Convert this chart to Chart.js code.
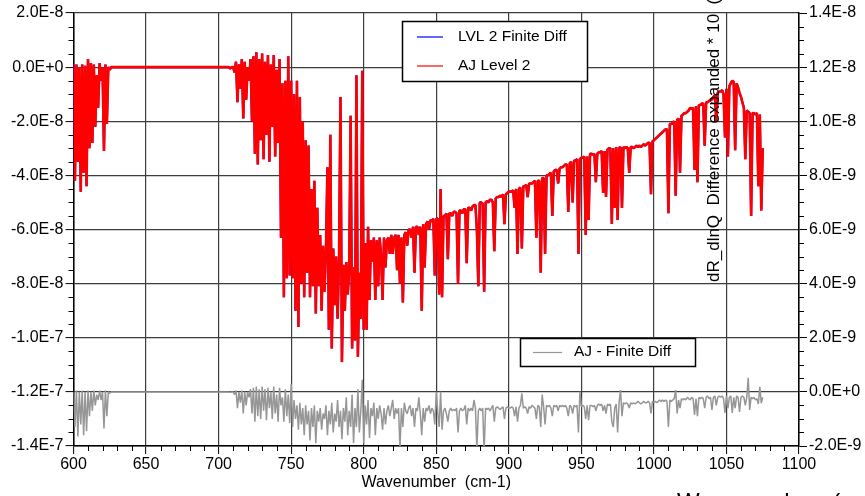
<!DOCTYPE html>
<html><head><meta charset="utf-8">
<script src="https://cdn.jsdelivr.net/npm/chart.js@4.4.1/dist/chart.umd.min.js"></script>
<style>html,body{margin:0;padding:0;background:#fff;overflow:hidden}#wrap{width:865px;height:496px;position:relative}</style>
</head><body><div id="wrap"><canvas id="c" width="865" height="496"></canvas></div>
<script>
// Spectra sampled every 1 cm-1 starting at 600 cm-1
const waveStart = 600;
const waveStep = 1;
const xTicks = [600, 650, 700, 750, 800, 850, 900, 950, 1000, 1050, 1100];
const leftTicks_e8 = [-14, -12, -10, -8, -6, -4, -2, 0, 2];   // x 1E-8
const rightTicks_e9 = [-2, 0, 2, 4, 6, 8, 10, 12, 14];        // x 1E-9

// AJ Level 2 (left axis, units of 1E-8)
const ajLevel2_e8 = [
0.1,-4.2,0.1,-3.5,0.0,-4.6,0.1,-3.9,0.05,-4.4,
0.3,-3.0,0.15,-2.8,0.1,-2.2,-0.3,-1.5,0.15,-0.5,
0.0,-3.1,0.1,-2.1,0.0,-0.1,0,0,0,0,
0,0,0,0,0,0,0,0,0,0,
0,0,0,0,0,0,0,0,0,0,
0,0,0,0,0,0,0,0,0,0,
0,0,0,0,0,0,0,0,0,0,
0,0,0,0,0,0,0,0,0,0,
0,0,0,0,0,0,0,0,0,0,
0,0,0,0,0,0,0,0,0,0,
0,0,0,0,0,0,0,0,-0.05,0,
0.0,-0.2,0.2,-1.3,0.1,-0.8,0.3,-1.9,0.2,-1.2,
0.0,-0.5,0.3,-2.0,0.4,-3.2,0.55,-3.6,0.3,-2.7,
0.5,-3.4,0.2,-2.5,0.45,-3.5,0.1,-2.2,0.45,-3.3,
-0.1,-2.8,0.3,-6.3,-0.6,-8.5,-0.5,-7.8,0.4,-7.7,
-0.5,-7.8,-1.0,-9.0,-0.5,-9.6,-1.1,-8.0,-2.0,-8.5,
-2.7,-7.6,-2.9,-8.5,-4.5,-8.1,-4.2,-9.1,-5.2,-8.1,
-6.2,-9.0,-6.6,-8.3,-6.7,-3.7,-9.7,-2.5,-10.4,-6.7,
-8.8,-7.0,-9.3,-7.1,-1.1,-10.9,-7.3,-9.0,-7.2,-8.4,
-7.5,-1.8,-10.4,-7.4,-10.1,-0.3,-10.7,-7.6,-9.3,-0.13,
-9.7,-6.5,-9.7,-5.9,-8.6,-6.4,-7.2,-6.3,-8.6,-6.4,
-8.1,-6.3,-7.0,-8.6,-6.3,-7.4,-6.4,-6.3,-6.9,-6.2,
-6.9,-6.3,-6.2,-7.5,-6.2,-8.0,-6.3,-8.7,-6.2,-6.1,
-6.6,-6.0,-6.0,-6.3,-5.9,-7.6,-5.9,-5.9,-6.2,-5.9,
-9.0,-5.8,-7.4,-5.8,-5.7,-6.0,-5.65,-5.7,-5.6,-7.7,
-5.6,-5.6,-8.4,-4.5,-8.5,-5.5,-5.5,-5.4,-7.1,-5.4,
-5.4,-5.5,-5.35,-5.35,-5.4,-8.0,-5.3,-5.3,-5.4,-5.25,
-5.25,-7.25,-5.2,-5.2,-5.3,-5.15,-5.1,-5.1,-6.0,-8.1,
-5.0,-5.0,-5.05,-8.3,-5.0,-4.95,-5.0,-4.9,-4.9,-5.0,
-6.8,-4.85,-4.8,-4.8,-4.75,-4.8,-4.7,-5.8,-4.7,-4.65,
-4.6,-4.6,-4.6,-4.55,-5.2,-4.5,-6.9,-4.5,-4.45,-6.7,
-4.4,-4.4,-4.35,-4.8,-4.3,-4.3,-4.3,-4.25,-4.2,-6.3,
-4.2,-4.2,-7.6,-4.1,-4.1,-6.9,-4.0,-4.0,-3.95,-3.9,
-5.5,-3.85,-3.8,-3.8,-4.3,-3.75,-3.7,-3.7,-3.65,-3.6,
-3.6,-5.35,-3.55,-3.5,-5.0,-3.45,-3.45,-3.4,-6.9,-3.4,
-3.35,-3.35,-3.3,-6.2,-3.3,-5.65,-3.2,-3.2,-3.25,-3.2,
-4.25,-3.2,-3.15,-3.15,-3.1,-4.65,-3.1,-4.8,-3.05,-3.0,
-3.0,-5.8,-3.0,-5.2,-2.95,-5.65,-3.0,-2.95,-5.2,-2.95,
-3.0,-2.95,-3.0,-3.9,-2.95,-2.95,-3.0,-2.95,-2.9,-2.95,
-2.9,-2.95,-2.9,-2.85,-2.9,-2.85,-2.8,-2.8,-4.7,-2.75,
-2.7,-2.65,-2.6,-2.55,-2.5,-2.45,-2.4,-2.35,-2.3,-2.3,
-5.4,-2.1,-2.1,-2.05,-2.0,-4.75,-1.95,-1.9,-3.9,-1.8,
-1.75,-1.7,-1.7,-1.65,-1.6,-1.5,-1.55,-1.5,-3.8,-1.45,
-4.25,-1.4,-1.4,-1.35,-1.35,-2.9,-1.3,-1.3,-1.25,-1.2,
-1.2,-1.1,-1.05,-2.0,-0.95,-0.9,-0.9,-0.85,-1.0,-2.6,
-0.8,-3.3,-0.7,-0.6,-0.5,-0.55,-3.07,-0.6,-0.75,-0.95,
-1.1,-1.3,-1.5,-3.4,-1.6,-1.65,-1.7,-5.5,-1.7,-1.7,
-1.75,-1.7,-4.4,-1.75,-5.3,-3.0
];

// LVL 2 Finite Diff (left axis, 1E-8) - coincides with AJ Level 2 at this scale
const lvl2FiniteDiff_e8 = ajLevel2_e8.slice();

// AJ - Finite Diff, expanded * 10 (right axis, units of 1E-9)
const ajMinusFd_e9 = [
0.0,-1.3,0.05,-1.65,0.0,-1.2,0.05,-1.6,0.0,-1.45,
0.05,-0.9,0.0,-0.7,0.05,-0.5,-0.1,-0.3,0.05,-0.3,
0.0,-1.35,0.05,-0.9,0.0,-0.05,0,0,0,0,
0,0,0,0,0,0,0,0,0,0,
0,0,0,0,0,0,0,0,0,0,
0,0,0,0,0,0,0,0,0,0,
0,0,0,0,0,0,0,0,0,0,
0,0,0,0,0,0,0,0,0,0,
0,0,0,0,0,0,0,0,0,0,
0,0,0,0,0,0,0,0,0,0,
0,0,0,0,0,0,0,0,-0.02,0,
0.0,-0.1,0.05,-0.6,0.0,-0.4,0.05,-0.8,0.0,-0.5,
0.0,-0.2,0.1,-0.8,0.15,-1.1,0.2,-0.9,0.1,-1.0,
0.2,-0.7,0.1,-1.05,0.15,-0.6,0.0,-1.0,0.2,-0.8,
-0.1,-1.1,0.15,-0.5,-0.2,-1.1,0.1,-0.9,-0.1,-1.15,
0.3,-1.3,-0.3,-1.0,-0.5,-1.4,-0.4,-1.2,-0.6,-1.6,
-0.5,-1.2,-0.7,-1.8,-0.6,-1.3,-0.5,-1.9,-0.7,-1.1,
-0.6,-1.4,-0.8,-1.0,-0.5,-1.6,-0.7,-1.2,-0.4,-1.5,
-0.8,-1.1,-0.3,-1.3,-0.7,-1.75,-0.6,-1.1,-0.2,-1.6,
-0.7,-1.3,-0.1,-1.9,-0.6,-1.3,0.1,-1.5,-0.7,0.45,
-1.9,-0.5,-1.2,-0.3,-1.7,-0.6,-0.9,-0.4,-1.6,-0.6,
-1.0,-0.5,-0.8,-1.4,-0.6,-1.2,-0.7,-0.5,-0.9,-0.6,
-0.3,-1.0,-0.6,-0.8,-0.6,-2.1,-0.6,-1.3,-0.4,-0.7,
-0.8,-0.6,-0.5,-0.9,-0.6,-1.3,-0.6,-0.7,-0.2,-0.8,
-1.6,-0.6,-1.1,-0.6,-0.7,-0.5,-0.8,-0.6,-0.7,-1.2,
0.0,-0.7,-1.3,0.0,-1.4,-0.7,-0.6,-0.8,-1.1,-0.7,
-0.6,-0.7,-0.65,-0.7,-0.6,-1.5,-0.7,-0.6,-0.7,-0.65,
-0.5,-1.2,-0.6,-0.7,-0.6,-0.7,-0.3,-0.6,-2.1,-0.7,
-0.6,-0.7,-0.6,-2.2,-0.6,-0.65,-0.6,-0.7,-0.6,-0.5,
-1.1,-0.6,-0.55,-0.6,-0.65,-0.6,-0.55,-1.0,-0.6,-0.55,
-0.6,-0.6,-0.55,-0.6,-0.9,-0.55,-1.1,-0.6,-0.5,-0.05,
-0.6,-0.55,-0.6,-0.8,-0.55,-0.6,-0.5,-0.55,-0.6,-1.0,
-0.5,-0.55,-1.3,-0.1,-0.55,-1.2,-0.5,-0.55,-0.5,-0.6,
-0.9,-0.5,-0.55,-0.5,-0.7,-0.5,-0.55,-0.5,-0.55,-0.5,
-0.6,-0.9,-0.5,-0.55,-0.8,-0.5,-0.55,-0.5,-1.5,0.0,
-0.55,-0.5,-0.55,-1.0,-0.5,-1.05,-0.5,-0.5,-0.55,-0.5,
-0.7,-0.5,-0.45,-0.5,-0.45,-0.7,-0.5,-0.8,-0.45,-0.5,
-0.45,-1.1,-1.3,-0.6,-0.45,-1.5,-0.4,0.07,-0.9,-0.4,
-0.45,-0.4,-0.45,-0.6,-0.4,-0.45,-0.4,-0.45,-0.4,-0.35,
-0.4,-0.45,-0.4,-0.35,-0.4,-0.4,-0.35,-0.4,-0.8,-0.35,
-0.4,-0.35,-0.4,-0.35,-0.3,-0.35,-0.3,-0.35,-0.3,-0.35,
-1.3,-0.3,-0.35,-0.3,-0.25,0.07,-0.8,-0.3,-0.6,-0.25,
-0.3,-0.25,-0.3,-0.2,-0.25,-0.3,-0.2,-0.25,-0.85,-0.25,
-0.9,-0.2,-0.25,-0.2,-0.25,-0.6,-0.2,-0.15,-0.25,-0.2,
-0.67,-0.2,-0.15,-0.5,-0.2,-0.15,-0.2,-0.15,-0.25,-0.78,
-0.15,-0.6,-0.2,-0.15,-0.78,-0.2,-0.6,-0.15,-0.2,-0.74,
-0.2,-0.15,-0.2,-0.5,-0.2,0.52,-0.67,-0.2,-0.25,-0.2,
-0.3,-0.25,-0.45,0.19,-0.42,-0.2
];

const seriesNames = ['AJ Level 2', 'LVL 2 Finite Diff', 'AJ - Finite Diff'];

function toPoints(arr) { return arr.map((v, i) => ({ x: waveStart + i * waveStep, y: v })); }
function fmtExp(v, unitExp) {
  if (Math.abs(v) < 1e-9) return '0.0E+0';
  const e = Math.floor(Math.log10(Math.abs(v)) + 1e-9);
  const m = v / Math.pow(10, e);
  const ex = e + unitExp;
  return m.toFixed(1) + 'E' + (ex >= 0 ? '+' + ex : String(ex));
}

Chart.defaults.font.family = '"Liberation Sans", Arial, Helvetica, sans-serif';
Chart.defaults.color = '#000';

const overlay = {
  id: 'overlay',
  afterDatasetsDraw(chart) {
    const { ctx, chartArea: a, scales } = chart;
    const x = scales.x, y = scales.y, y1 = scales.y1;
    ctx.save();
    // minor ticks
    ctx.strokeStyle = '#000'; ctx.lineWidth = 1;
    ctx.beginPath();
    for (let k = 0; k < xTicks.length - 1; k++) {
      for (let j = 1; j < 5; j++) {
        const v = xTicks[k] + (xTicks[k + 1] - xTicks[k]) * j / 5;
        const px = Math.round(x.getPixelForValue(v)) + 0.5;
        ctx.moveTo(px, a.bottom); ctx.lineTo(px, a.bottom + 5);
      }
    }
    for (let k = 0; k < leftTicks_e8.length - 1; k++) {
      for (let j = 1; j < 4; j++) {
        const v = leftTicks_e8[k] + (leftTicks_e8[k + 1] - leftTicks_e8[k]) * j / 4;
        const py = Math.round(y.getPixelForValue(v)) + 0.5;
        ctx.moveTo(a.left - 5, py); ctx.lineTo(a.left, py);
      }
    }
    for (let k = 0; k < rightTicks_e9.length - 1; k++) {
      for (let j = 1; j < 4; j++) {
        const v = rightTicks_e9[k] + (rightTicks_e9[k + 1] - rightTicks_e9[k]) * j / 4;
        const py = Math.round(y1.getPixelForValue(v)) + 0.5;
        ctx.moveTo(a.right, py); ctx.lineTo(a.right + 5, py);
      }
    }
    ctx.stroke();

    // rotated right-axis title (runs off the top of the picture)
    ctx.save();
    ctx.translate(719, 282);
    ctx.rotate(-Math.PI / 2);
    ctx.fillStyle = '#000';
    ctx.font = '17px "Liberation Sans", Arial, sans-serif';
    ctx.textAlign = 'left'; ctx.textBaseline = 'alphabetic';
    ctx.fillText('dR_dlnQ  Difference expanded * 10  (cm-1)', 0, 0);
    ctx.restore();

    // legend 1
    ctx.font = '15.5px "Liberation Sans", Arial, sans-serif';
    ctx.textBaseline = 'middle'; ctx.textAlign = 'left';
    ctx.fillStyle = '#fff';
    ctx.fillRect(402, 21, 185, 60);
    ctx.strokeStyle = '#000'; ctx.lineWidth = 1.5;
    ctx.strokeRect(402.5, 21.5, 185, 60);
    ctx.lineWidth = 1.2;
    ctx.strokeStyle = '#0000ff';
    ctx.beginPath(); ctx.moveTo(417, 37); ctx.lineTo(443, 37); ctx.stroke();
    ctx.strokeStyle = '#ff0000';
    ctx.beginPath(); ctx.moveTo(417, 66); ctx.lineTo(443, 66); ctx.stroke();
    ctx.fillStyle = '#000';
    ctx.fillText(seriesNames[1], 458, 37);
    ctx.fillText(seriesNames[0], 458, 66);

    // legend 2
    ctx.fillStyle = '#fff';
    ctx.fillRect(520, 338, 175, 28);
    ctx.strokeStyle = '#000'; ctx.lineWidth = 1.5;
    ctx.strokeRect(520.5, 338.5, 175, 28);
    ctx.strokeStyle = '#969696'; ctx.lineWidth = 1.2;
    ctx.beginPath(); ctx.moveTo(533, 352.5); ctx.lineTo(562, 352.5); ctx.stroke();
    ctx.fillStyle = '#000';
    ctx.fillText(seriesNames[2], 574, 352);

    // cut-off second axis caption at the bottom edge
    ctx.font = '24px "Liberation Sans", Arial, sans-serif';
    ctx.textBaseline = 'top';
    ctx.fillText('Wavenumber  (cm-1)', 677, 491);
    ctx.restore();
  }
};

const gridColor = '#3c3c3c';
new Chart(document.getElementById('c'), {
  type: 'line',
  data: {
    datasets: [
      { label: seriesNames[0], data: toPoints(ajLevel2_e8), yAxisID: 'y', borderColor: '#ff0000', borderWidth: 2.6, borderJoinStyle: 'bevel', pointRadius: 0, tension: 0 },
      { label: seriesNames[1], data: toPoints(lvl2FiniteDiff_e8), yAxisID: 'y', borderColor: '#0000ff', borderWidth: 2.2, borderJoinStyle: 'bevel', pointRadius: 0, tension: 0 },
      { label: seriesNames[2], data: toPoints(ajMinusFd_e9), yAxisID: 'y1', borderColor: '#969696', borderWidth: 1.5, borderJoinStyle: 'bevel', pointRadius: 0, tension: 0 }
    ]
  },
  options: {
    responsive: false,
    animation: false,
    devicePixelRatio: 1,
    layout: { padding: { top: 13, left: 0, right: 0, bottom: 0 } },
    plugins: { legend: { display: false }, tooltip: { enabled: false } },
    scales: {
      x: {
        type: 'linear', position: 'bottom', min: xTicks[0], max: xTicks[xTicks.length - 1],
        afterBuildTicks: s => { s.ticks = xTicks.map(v => ({ value: v })); },
        ticks: { callback: v => String(v), color: '#000', font: { size: 16 }, padding: 1, maxRotation: 0, autoSkip: false },
        grid: { color: gridColor, lineWidth: 1.2, tickLength: 8, tickColor: '#000', tickWidth: 1 },
        border: { color: '#000', width: 1.5 },
        title: { display: true, text: 'Wavenumber  (cm-1)', color: '#000', font: { size: 16 }, padding: { top: 0, bottom: 4 } },
        afterFit: s => { s.height = 50; }
      },
      y: {
        position: 'left', min: leftTicks_e8[0], max: leftTicks_e8[leftTicks_e8.length - 1],
        afterBuildTicks: s => { s.ticks = leftTicks_e8.map(v => ({ value: v })); },
        ticks: { callback: v => fmtExp(v, -8), color: '#000', font: { size: 16 }, padding: 2, autoSkip: false },
        grid: { color: gridColor, lineWidth: 1.2, tickLength: 8, tickColor: '#000', tickWidth: 1 },
        border: { color: '#000', width: 1.5 },
        afterFit: s => { s.width = 73.5; }
      },
      y1: {
        position: 'right', min: rightTicks_e9[0], max: rightTicks_e9[rightTicks_e9.length - 1],
        afterBuildTicks: s => { s.ticks = rightTicks_e9.map(v => ({ value: v })); },
        ticks: { callback: v => fmtExp(v, -9), color: '#000', font: { size: 16 }, padding: 2, autoSkip: false },
        grid: { drawOnChartArea: false, tickLength: 8, tickColor: '#000', tickWidth: 1 },
        border: { color: '#000', width: 1.5 },
        afterFit: s => { s.width = 66; }
      }
    }
  },
  plugins: [overlay]
});
</script>
</body></html>
